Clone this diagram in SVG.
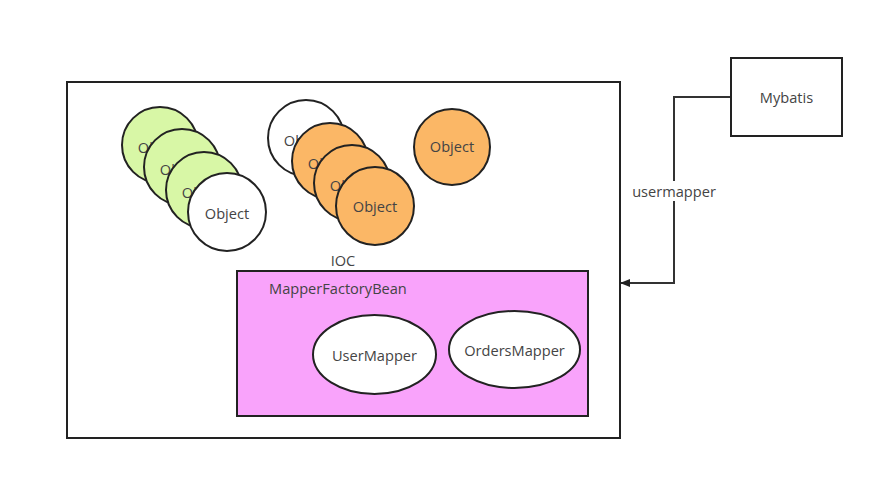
<svg xmlns="http://www.w3.org/2000/svg" width="877" height="482" viewBox="0 0 877 482">
<defs>
<style>
.t{font-family:"Open Sans","Noto Sans",sans-serif;font-size:14.6px;fill:#444;}
.c{text-anchor:middle;dominant-baseline:central;}
.g{fill:#d8f7a6;stroke:#222;stroke-width:2;}
.w{fill:#fff;stroke:#222;stroke-width:2;}
.o{fill:#fbb766;stroke:#222;stroke-width:2;}
.box{fill:#fff;stroke:#222;stroke-width:2;}
.line{fill:none;stroke:#333;stroke-width:2;}
</style>
<marker id="arr" viewBox="0 0 10 10" refX="9" refY="5" markerWidth="10" markerHeight="10" markerUnits="userSpaceOnUse" orient="auto">
<path d="M0,1 L10,5 L0,9 z" fill="#222"/>
</marker>
</defs>
<rect width="877" height="482" fill="#fff"/>
<g id="ioc">
<rect x="67" y="82" width="553" height="356" class="box"/>
<text x="343" y="260" class="t c">IOC</text>
</g>
<g id="green-objects">
<circle cx="160" cy="145" r="38" class="g"/><text x="160" y="147" class="t c">Object</text>
<circle cx="182" cy="167" r="38" class="g"/><text x="182" y="169" class="t c">Object</text>
<circle cx="204" cy="190" r="38" class="g"/><text x="204" y="192" class="t c">Object</text>
<circle cx="227" cy="212" r="39" class="w"/><text x="227" y="213" class="t c">Object</text>
</g>
<g id="orange-objects">
<circle cx="306" cy="138" r="38" class="w"/><text x="306" y="140" class="t c">Object</text>
<circle cx="330" cy="161" r="38" class="o"/><text x="330" y="163" class="t c">Object</text>
<circle cx="352" cy="183" r="38" class="o"/><text x="352" y="185" class="t c">Object</text>
<circle cx="375" cy="206" r="39" class="o"/><text x="375" y="206" class="t c">Object</text>
</g>
<g id="object-single">
<circle cx="452" cy="147" r="38" class="o"/><text x="452" y="146" class="t c">Object</text>
</g>
<g id="mapperfactorybean">
<rect x="237" y="271" width="351" height="145" fill="#f9a3fb" stroke="#222" stroke-width="2"/>
<text x="269" y="294" class="t">MapperFactoryBean</text>
</g>
<g id="usermapper">
<ellipse cx="374.5" cy="354.5" rx="61.5" ry="39.5" class="w"/>
<text x="374.5" y="355" class="t c">UserMapper</text>
</g>
<g id="ordersmapper">
<ellipse cx="514.5" cy="349.5" rx="65.5" ry="38.5" class="w"/>
<text x="514.5" y="350" class="t c">OrdersMapper</text>
</g>
<g id="mybatis">
<rect x="731" y="58" width="111" height="78" class="box"/>
<text x="786.5" y="97" class="t c">Mybatis</text>
</g>
<g id="connectors">
<polyline points="730,97 674,97 674,283 621,283" class="line" marker-end="url(#arr)"/>
<rect x="630" y="181" width="88" height="20" fill="#fff"/>
<text x="674" y="191" class="t c">usermapper</text>
</g>
</svg>
